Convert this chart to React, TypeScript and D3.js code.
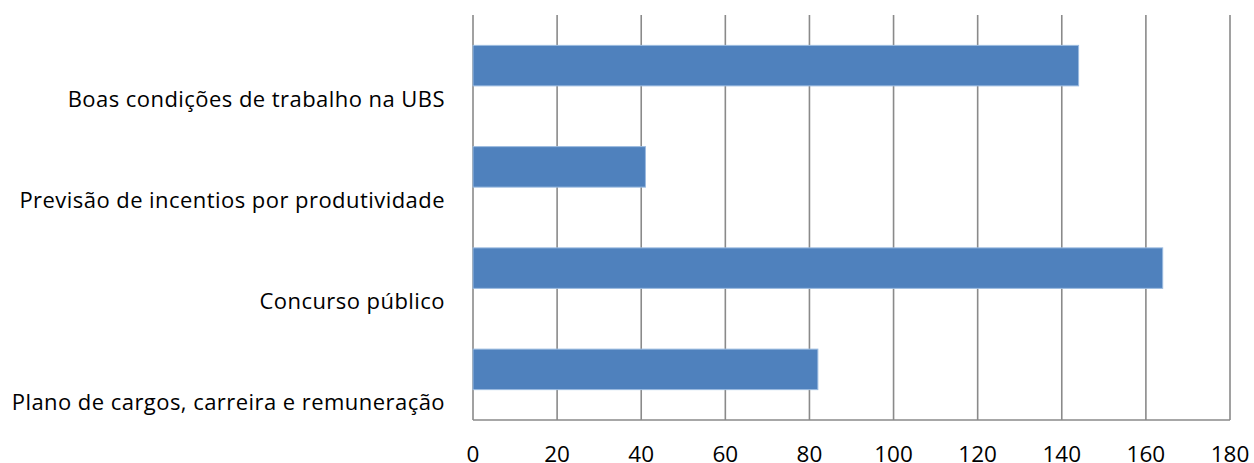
import React from "react";
import * as d3 from "d3";

const categories = [
  "Boas condições de trabalho na UBS",
  "Previsão de incentios por produtividade",
  "Concurso público",
  "Plano de cargos, carreira e remuneração",
];
const values = [144, 41, 164, 82];
const xTicks = [0, 20, 40, 60, 80, 100, 120, 140, 160, 180];

const W = 1254;
const H = 463;
const margin = { left: 473, right: 24, top: 15, bottom: 43 };
const FONT = "'Open Sans', 'Noto Sans', sans-serif";

export default function App() {
  const x = d3
    .scaleLinear()
    .domain([0, 180])
    .range([margin.left, W - margin.right]);
  const y = d3
    .scaleBand<string>()
    .domain(categories)
    .range([margin.top, H - margin.bottom])
    .paddingInner(0.6)
    .paddingOuter(0.3);
  const band = d3
    .scaleBand<string>()
    .domain(categories)
    .range([margin.top, H - margin.bottom]);

  const y0 = margin.top;
  const y1 = H - margin.bottom;

  return (
    <svg
      width={W}
      height={H}
      style={{ position: "absolute", left: 0, top: 0, background: "#fff" }}
    >
      {xTicks.map((t) => (
        <line
          key={"g" + t}
          x1={x(t)}
          x2={x(t)}
          y1={y0}
          y2={y1}
          stroke="#8a8a8a"
          strokeWidth={1.6}
        />
      ))}
      <line
        x1={x(0)}
        x2={x(180)}
        y1={y1}
        y2={y1}
        stroke="#8a8a8a"
        strokeWidth={1.6}
      />
      {categories.map((c, i) => (
        <rect
          key={c}
          x={x(0)}
          y={y(c)}
          width={x(values[i]) - x(0)}
          height={y.bandwidth()}
          fill="#4f81bd"
          stroke="#9bbbe0"
          strokeWidth={1}
        />
      ))}
      {categories.map((c) => (
        <text
          key={"l" + c}
          x={445}
          y={(band(c) as number) + band.bandwidth() / 2 + 41}
          textAnchor="end"
          fontFamily={FONT}
          fontSize={22}
          letterSpacing={0.45}
          fill="#000"
          style={{ fontVariantLigatures: "none" }}
        >
          {c}
        </text>
      ))}
      {xTicks.map((t) => (
        <text
          key={"t" + t}
          x={x(t)}
          y={461.5}
          textAnchor="middle"
          fontFamily={FONT}
          fontSize={22.5}
          fill="#000"
        >
          {t}
        </text>
      ))}
    </svg>
  );
}
